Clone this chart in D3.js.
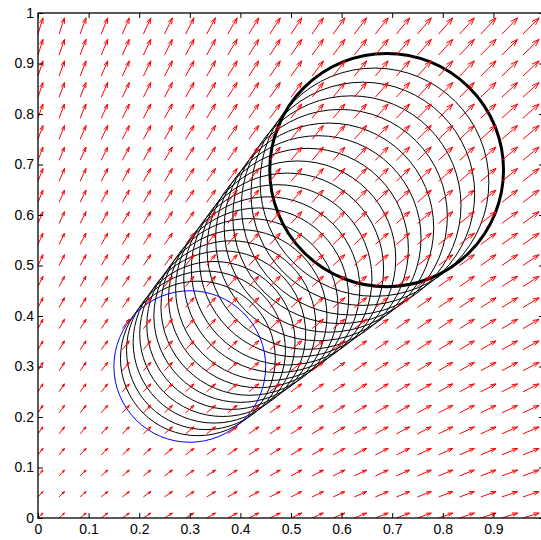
<!DOCTYPE html>
<html>
<head>
<meta charset="utf-8">
<script src="https://cdn.jsdelivr.net/npm/d3@7"></script>
<style>
  html, body { margin: 0; padding: 0; background: #fff; }
  svg { display: block; }
  .tick text { font-family: "Liberation Sans", Arial, Helvetica, sans-serif; font-size: 14px; fill: #000; }
</style>
</head>
<body>
<svg id="svg_main"></svg>
<script>
// grid positions of the quiver (x columns / y rows)
const xGrid = [0, 0.0417, 0.0833, 0.125, 0.1667, 0.2083, 0.25, 0.2917, 0.3333, 0.375, 0.4167, 0.4583, 0.5,
               0.5417, 0.5833, 0.625, 0.6667, 0.7083, 0.75, 0.7917, 0.8333, 0.875, 0.9167, 0.9583, 1];
const yGrid = [0, 0.0417, 0.0833, 0.125, 0.1667, 0.2083, 0.25, 0.2917, 0.3333, 0.375, 0.4167, 0.4583, 0.5,
               0.5417, 0.5833, 0.625, 0.6667, 0.7083, 0.75, 0.7917, 0.8333, 0.875, 0.9167, 0.9583, 1];
// horizontal velocity per column, vertical velocity per row
const uCol = [0.42, 0.46, 0.50, 0.55, 0.59, 0.63, 0.67, 0.71, 0.75, 0.80, 0.84, 0.88, 0.92,
              0.96, 1.00, 1.05, 1.09, 1.13, 1.17, 1.21, 1.25, 1.30, 1.34, 1.38, 1.42];
const vRow = [0.42, 0.46, 0.50, 0.55, 0.59, 0.63, 0.67, 0.71, 0.75, 0.80, 0.84, 0.88, 0.92,
              0.96, 1.00, 1.05, 1.09, 1.13, 1.17, 1.21, 1.25, 1.30, 1.34, 1.38, 1.42];

// start circle (blue)
const startCircle = {cx: 0.300, cy: 0.300, r: 0.150};
// advected circles (black), last one drawn thick
const circleCx = [0.316, 0.332, 0.348, 0.365, 0.382, 0.400, 0.418, 0.436, 0.454, 0.474,
                  0.493, 0.513, 0.533, 0.554, 0.575, 0.597, 0.619, 0.642, 0.665, 0.689];
const circleCy = [0.316, 0.332, 0.348, 0.365, 0.382, 0.400, 0.418, 0.436, 0.454, 0.474,
                  0.493, 0.513, 0.533, 0.554, 0.575, 0.597, 0.619, 0.642, 0.665, 0.689];
const circleR  = [0.153, 0.157, 0.160, 0.164, 0.167, 0.171, 0.175, 0.178, 0.182, 0.186,
                  0.190, 0.194, 0.199, 0.203, 0.207, 0.212, 0.217, 0.221, 0.226, 0.231];

const xTicks = [0, 0.1, 0.2, 0.3, 0.4, 0.5, 0.6, 0.7, 0.8, 0.9];
const yTicks = [0, 0.1, 0.2, 0.3, 0.4, 0.5, 0.6, 0.7, 0.8, 0.9, 1];

const width = 541, height = 540;
const plot = {left: 38, right: 544, top: 13, bottom: 518};

const svg = d3.select('#svg_main')
    .attr('width', width)
    .attr('height', height);

const x = d3.scaleLinear().domain([0, 1]).range([plot.left, plot.right]);
const y = d3.scaleLinear().domain([0, 1]).range([plot.bottom, plot.top]);

svg.append('defs').append('clipPath')
    .attr('id', 'clip')
    .append('rect')
    .attr('x', plot.left).attr('y', plot.top)
    .attr('width', plot.right - plot.left).attr('height', plot.bottom - plot.top);

const g = svg.append('g').attr('clip-path', 'url(#clip)');

// circles
const circles = circleCx.map((cx, i) => ({cx, cy: circleCy[i], r: circleR[i]}));

g.append('g')
    .selectAll('ellipse')
    .data(circles)
    .join('ellipse')
    .attr('cx', d => x(d.cx))
    .attr('cy', d => y(d.cy))
    .attr('rx', d => x(d.r) - x(0))
    .attr('ry', d => y(0) - y(d.r))
    .attr('fill', 'none')
    .attr('stroke', '#000')
    .attr('stroke-width', 1);

g.append('ellipse')
    .datum(startCircle)
    .attr('cx', d => x(d.cx))
    .attr('cy', d => y(d.cy))
    .attr('rx', d => x(d.r) - x(0))
    .attr('ry', d => y(0) - y(d.r))
    .attr('fill', 'none')
    .attr('stroke', '#0000ff')
    .attr('stroke-width', 1);

g.append('ellipse')
    .datum(circles[circles.length - 1])
    .attr('cx', d => x(d.cx))
    .attr('cy', d => y(d.cy))
    .attr('rx', d => x(d.r) - x(0))
    .attr('ry', d => y(0) - y(d.r))
    .attr('fill', 'none')
    .attr('stroke', '#000')
    .attr('stroke-width', 3);

// quiver, matlab style open arrowheads
const arrows = [];
xGrid.forEach((gx, i) => {
    yGrid.forEach((gy, j) => {
        arrows.push({x: gx, y: gy, u: uCol[i], v: vRow[j]});
    });
});
const del = xGrid[1] - xGrid[0];
const maxMag = d3.max(arrows, d => Math.hypot(d.u, d.v));
const sf = 1.12 * del / maxMag;
const alpha = 0.33, beta = 0.33;

function arrowPath(d) {
    const u = d.u * sf, v = d.v * sf;
    const tx = d.x + u, ty = d.y + v;
    const h1x = tx - alpha * (u + beta * v), h1y = ty - alpha * (v - beta * u);
    const h2x = tx - alpha * (u - beta * v), h2y = ty - alpha * (v + beta * u);
    return `M${x(d.x)},${y(d.y)}L${x(tx)},${y(ty)}` +
        `M${x(h1x)},${y(h1y)}L${x(tx)},${y(ty)}L${x(h2x)},${y(h2y)}`;
}

g.append('g')
    .selectAll('path')
    .data(arrows)
    .join('path')
    .attr('d', arrowPath)
    .attr('fill', 'none')
    .attr('stroke', '#ff0000')
    .attr('stroke-width', 1);

// axes (box with inward ticks)
const tickLen = 5;
svg.append('g')
    .attr('transform', `translate(0,${plot.bottom})`)
    .call(d3.axisBottom(x).tickValues(xTicks).tickSizeInner(-tickLen).tickSizeOuter(0).tickPadding(6)
        .tickFormat(d3.format('')))
    .call(a => a.select('.domain').remove());
svg.append('g')
    .attr('transform', `translate(0,${plot.top})`)
    .call(d3.axisTop(x).tickValues(xTicks).tickSizeInner(-tickLen).tickSizeOuter(0).tickFormat(''))
    .call(a => a.select('.domain').remove());
svg.append('g')
    .attr('transform', `translate(${plot.left},0)`)
    .call(d3.axisLeft(y).tickValues(yTicks).tickSizeInner(-tickLen).tickSizeOuter(0).tickPadding(4)
        .tickFormat(d3.format('')))
    .call(a => a.select('.domain').remove());
svg.append('g')
    .attr('transform', `translate(${plot.right},0)`)
    .call(d3.axisRight(y).tickValues(yTicks).tickSizeInner(-tickLen).tickSizeOuter(0).tickFormat(''))
    .call(a => a.select('.domain').remove());

svg.append('rect')
    .attr('x', plot.left).attr('y', plot.top)
    .attr('width', plot.right - plot.left).attr('height', plot.bottom - plot.top)
    .attr('fill', 'none')
    .attr('stroke', '#000')
    .attr('stroke-width', 1.3);
</script>
</body>
</html>
